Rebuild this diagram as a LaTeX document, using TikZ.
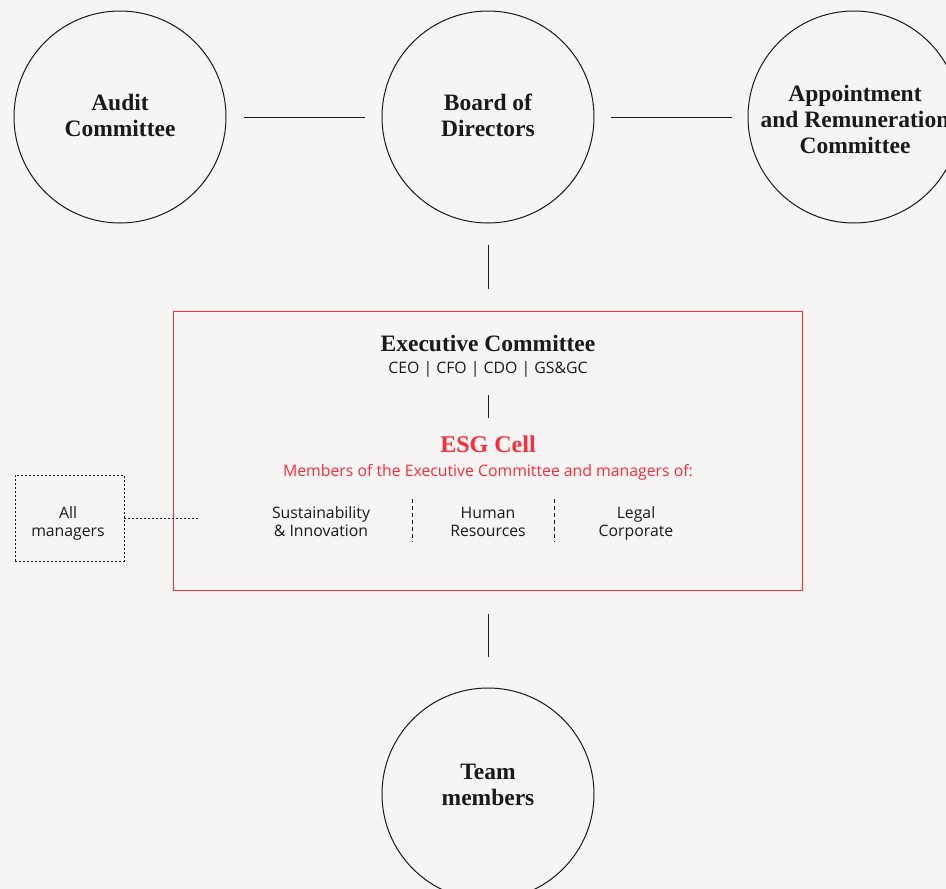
\documentclass[tikz,border=0pt]{standalone}
\usepackage{fontspec}
\setmainfont{Liberation Serif}
\newfontfamily\sansfnt{Open Sans}
\definecolor{bgc}{HTML}{F6F5F3}
\definecolor{esgred}{HTML}{FF2B3D}
\definecolor{inkc}{HTML}{1A1A1A}
\begin{document}
\begin{tikzpicture}[x=1pt,y=-1pt,
  circ/.style={circle,draw=inkc,line width=1pt,minimum size=212pt,inner sep=0pt},
  ctext/.style={align=center,font=\fontsize{23.5}{26}\selectfont\bfseries,text=inkc,inner sep=0pt},
  conn/.style={draw=inkc,line width=0.9pt},
  lbl/.style={align=center,font=\sansfnt\fontsize{15.8}{18}\selectfont,text=inkc,inner sep=0pt},
  head/.style={font=\fontsize{23.5}{26}\selectfont\bfseries,text=inkc,inner sep=0pt},
  dotbox/.style={draw=inkc,line width=0.9pt,dash pattern=on 2pt off 2pt}]
\fill[bgc] (0,0) rectangle (946,889);
\useasboundingbox (0,0) rectangle (946,889);
% circles
\node[circ] (audit) at (120,117) {};
\node[circ] (board) at (488,117) {};
\node[circ] (appt) at (854,117) {};
\node[circ] (team) at (488,794) {};
\node[ctext] (auditt) at (120,115) {Audit\\Committee};
\node[ctext] (boardt) at (488,115) {Board of\\Directors};
\node[ctext] (apptt) at (855,119.5) {Appointment\\and Remuneration\\Committee};
\node[ctext] (teamt) at (488,785) {Team\\members};
% connectors between circles
\coordinate (a1) at (244,117); \coordinate (a2) at (365,117);
\coordinate (b1) at (611,117); \coordinate (b2) at (732,117);
\draw[conn] (a1) -- (a2);
\draw[conn] (b1) -- (b2);
\coordinate (v1) at (488,245); \coordinate (v2) at (488,289);
\draw[conn] (v1) -- (v2);
\coordinate (w1) at (488,614); \coordinate (w2) at (488,657);
\draw[conn] (w1) -- (w2);
% red box
\node[draw=esgred,line width=0.9pt,minimum width=629pt,minimum height=279pt,inner sep=0pt] (box) at (487.5,450.5) {};
\node[head] (exec) at (488,343) {Executive Committee};
\node[lbl,anchor=base] (roles) at (488,373.5) {CEO | CFO | CDO | GS\&GC};
\coordinate (i1) at (488,395); \coordinate (i2) at (488,418);
\draw[conn] (i1) -- (i2);
\node[head,text=esgred,font=\fontsize{24}{28}\selectfont\bfseries] (esg) at (488,444) {ESG Cell};
\node[lbl,text=esgred,anchor=base] (members) at (488,476) {Members of the Executive Committee and managers of:};
\node[lbl,anchor=north] (sust) at (321,506) {Sustainability\\\& Innovation};
\node[lbl,anchor=north] (hr) at (488,507.2) {Human\\Resources};
\node[lbl,anchor=north] (legal) at (636,506) {Legal\\Corporate};
\coordinate (d1) at (412,499); \coordinate (d2) at (412,542);
\coordinate (e1) at (554,499); \coordinate (e2) at (554,542);
\draw[conn,dash pattern=on 4pt off 3pt] (d1) -- (d2);
\draw[conn,dash pattern=on 4pt off 3pt] (e1) -- (e2);
% all managers
\node[dotbox,minimum width=109pt,minimum height=86pt,inner sep=0pt] (allm) at (69.5,518) {};
\node[lbl,anchor=north] (allmt) at (68,506) {All\\managers};
\coordinate (m2) at (200,518);
\draw[dotbox] (allm.east) -- (m2);
\end{tikzpicture}
\end{document}
